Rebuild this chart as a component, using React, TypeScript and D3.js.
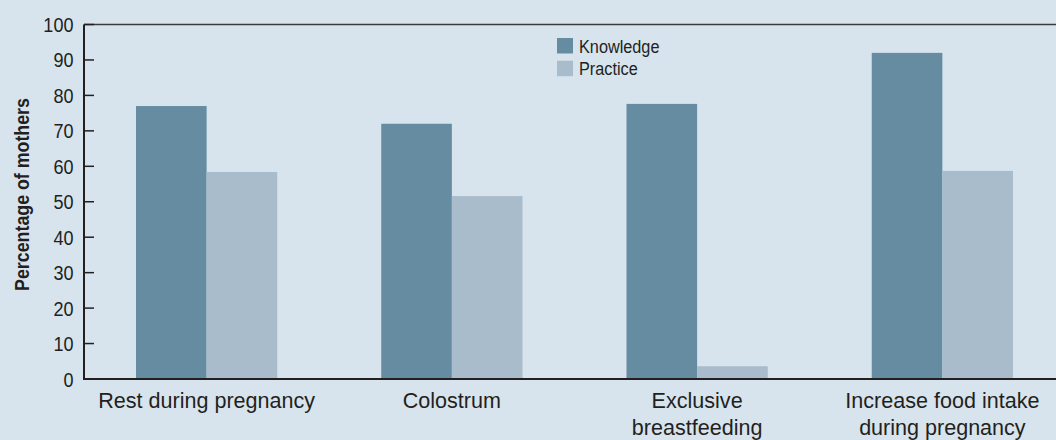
import React, { useEffect, useRef } from "react";
import * as d3 from "d3";

const categories = [
  ["Rest during pregnancy"],
  ["Colostrum"],
  ["Exclusive", "breastfeeding"],
  ["Increase food intake", "during pregnancy"],
];
const seriesNames = ["Knowledge", "Practice"];
const knowledge = [77, 72, 77.6, 92];
const practice = [58.4, 51.6, 3.6, 58.7];
const yTicks = [0, 10, 20, 30, 40, 50, 60, 70, 80, 90, 100];

const W = 1056;
const H = 440;
const BG = "#d7e4ee";
const COLORS = ["#668ca2", "#a9bccb"];
const TEXT = "#231f20";
const FONT = "'Liberation Sans', Arial, sans-serif";

export default function App() {
  const ref = useRef<SVGSVGElement>(null);

  useEffect(() => {
    const svg = d3.select(ref.current);
    svg.selectAll("*").remove();

    const left = 84;
    const top = 24.5;
    const bottom = 379;
    const x0 = d3
      .scaleBand<number>()
      .domain(categories.map((_, i) => i))
      .range([left, 1065])
      .paddingInner(0.424)
      .paddingOuter(0.212);
    const x1 = d3.scaleBand<number>().domain([0, 1]).range([0, x0.bandwidth()]);
    const y = d3.scaleLinear().domain([0, 100]).range([bottom, top]);

    const ctext = (
      parent: any,
      x: number,
      yy: number,
      txt: string,
      size: number,
      sx: number,
      anchor: string,
      extra = ""
    ) =>
      parent
        .append("text")
        .attr("transform", `translate(${x},${yy}) ${extra} scale(${sx},1)`)
        .attr("text-anchor", anchor)
        .attr("font-family", FONT)
        .attr("font-size", size)
        .attr("fill", TEXT)
        .text(txt);

    svg.append("rect").attr("width", W).attr("height", H).attr("fill", BG);

    const data = [knowledge, practice];
    data.forEach((vals, s) => {
      svg
        .append("g")
        .selectAll("rect")
        .data(vals)
        .join("rect")
        .attr("x", (_, i) => (x0(i) as number) + (x1(s) as number))
        .attr("width", x1.bandwidth())
        .attr("y", (d) => y(d))
        .attr("height", (d) => bottom - y(d))
        .attr("fill", COLORS[s]);
    });

    // top frame line
    svg
      .append("line")
      .attr("x1", left)
      .attr("x2", W)
      .attr("y1", top)
      .attr("y2", top)
      .attr("stroke", "#3a3a3a")
      .attr("stroke-width", 1.3);

    // y axis ticks (inside)
    const ga = svg.append("g");
    ga.selectAll("line")
      .data(yTicks)
      .join("line")
      .attr("x1", left)
      .attr("x2", left + 10)
      .attr("y1", (d) => y(d))
      .attr("y2", (d) => y(d))
      .attr("stroke", TEXT)
      .attr("stroke-width", 1.5);
    yTicks.forEach((t) => {
      ctext(ga, left - 10.5, y(t) + 7.5, String(t), 21, 0.86, "end");
    });

    svg
      .append("line")
      .attr("x1", left)
      .attr("x2", left)
      .attr("y1", top)
      .attr("y2", bottom + 1)
      .attr("stroke", TEXT)
      .attr("stroke-width", 2);

    svg
      .append("line")
      .attr("x1", left - 1)
      .attr("x2", W)
      .attr("y1", bottom)
      .attr("y2", bottom)
      .attr("stroke", TEXT)
      .attr("stroke-width", 2);

    // category labels
    categories.forEach((lines, i) => {
      const cx = (x0(i) as number) + x0.bandwidth() / 2;
      lines.forEach((ln, j) => {
        ctext(svg, cx, 407.5 + j * 27, ln, 22, 0.98, "middle");
      });
    });

    // y axis title
    svg
      .append("text")
      .attr("transform", `translate(28.5,194.5) rotate(-90) scale(0.89,1)`)
      .attr("text-anchor", "middle")
      .attr("font-family", FONT)
      .attr("font-weight", "bold")
      .attr("font-size", 20)
      .attr("fill", TEXT)
      .text("Percentage of mothers");

    // legend
    const lg = svg.append("g").attr("transform", "translate(557,38)");
    seriesNames.forEach((name, i) => {
      lg.append("rect")
        .attr("x", 0)
        .attr("y", i * 22.7)
        .attr("width", 16)
        .attr("height", 15.5)
        .attr("fill", COLORS[i]);
      ctext(lg, 22, i * 22.7 + 14.5, name, 17.5, 0.93, "start");
    });
  }, []);

  return (
    <svg
      ref={ref}
      width={W}
      height={H}
      style={{ position: "absolute", left: 0, top: 0, display: "block" }}
    />
  );
}
